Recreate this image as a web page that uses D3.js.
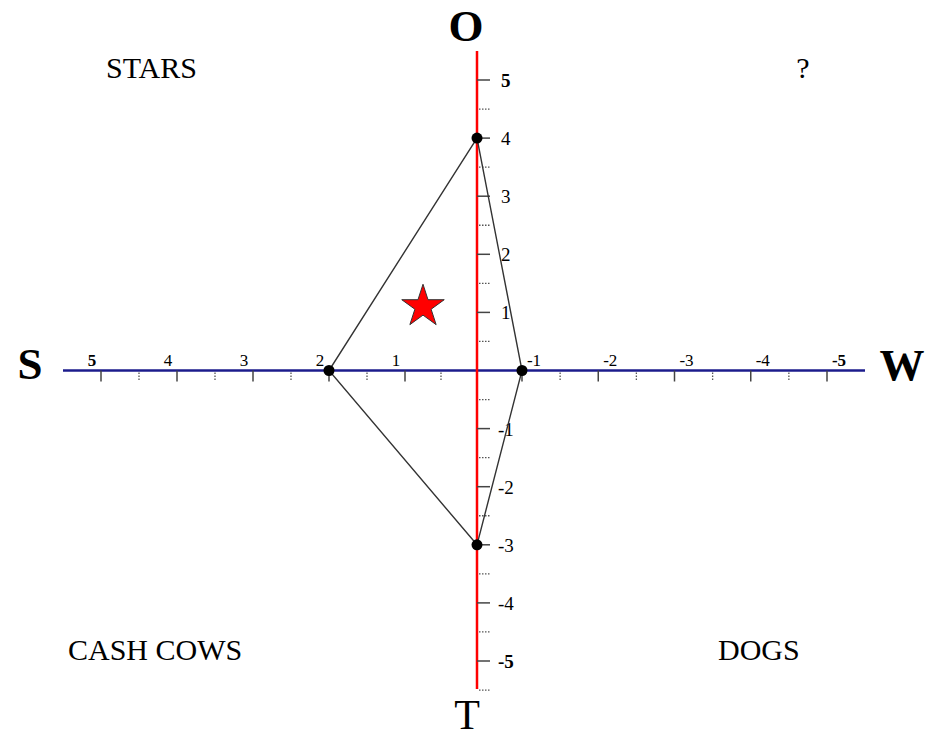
<!DOCTYPE html>
<html>
<head>
<meta charset="utf-8">
<script src="https://cdn.jsdelivr.net/npm/d3@7"></script>
<style>
  body { margin: 0; background: #fff; }
  text { font-family: "Liberation Serif", "Times New Roman", serif; fill: #000; }
</style>
</head>
<body>
<svg id="chart" width="932" height="740"></svg>
<script>

// axis ticks (S..W horizontally, O..T vertically)
var xMajor = [5, 4, 3, 2, 1, -1, -2, -3, -4, -5]
var xMinor = [4.5, 3.5, 2.5, 1.5, 0.5, -1.5, -2.5, -3.5, -4.5]
var yMajor = [5, 4, 3, 2, 1, -1, -2, -3, -4, -5]
var yMinor = [4.5, 3.5, 2.5, 1.5, 0.5, -0.5, -1.5, -2.5, -3.5, -4.5, -5.5]

// polygon corners
var pointX = [0, -1, 0, 2]
var pointY = [4, 0, -3, 0]

// star marker
var starX = [0.75]
var starY = [1.1]

// quadrant + axis names
var quadrants = ["STARS", "?", "CASH COWS", "DOGS"]
var axisNames = ["S", "W", "O", "T"]

var svg = d3.select("#chart")

// the horizontal scale isn't symmetric around the red axis in the original
var x = d3.scaleLinear().domain([5, 1, 0, -1, -5]).range([101, 405, 477, 522, 827])
var y = d3.scaleLinear().domain([5, -5]).range([80, 661])

var x0 = x(0), y0 = y(0)

// horizontal axis
svg.append("line")
    .attr("x1", 63).attr("x2", 865)
    .attr("y1", y0).attr("y2", y0)
    .style("stroke", "#1c1c8c").style("stroke-width", 2.5)

svg.selectAll(".xmajor").data(xMajor).enter().append("line")
    .attr("class", "xmajor")
    .attr("x1", function(d){ return x(d) }).attr("x2", function(d){ return x(d) })
    .attr("y1", y0).attr("y2", y0 + 11)
    .style("stroke", "#444").style("stroke-width", 1.5)

svg.selectAll(".xminor").data(xMinor).enter().append("line")
    .attr("class", "xminor")
    .attr("x1", function(d){ return x(d) }).attr("x2", function(d){ return x(d) })
    .attr("y1", y0 + 2).attr("y2", y0 + 11)
    .style("stroke", "#555").style("stroke-width", 1.3)
    .style("stroke-dasharray", "1.5,1.5")

svg.selectAll(".xlabel").data(xMajor).enter().append("text")
    .attr("class", "xlabel")
    .attr("x", function(d){ return x(d) + (d > 0 ? -9 : 12) })
    .attr("y", y0 - 5)
    .attr("text-anchor", "middle")
    .style("font-size", "17px")
    .style("font-weight", function(d){ return Math.abs(d) == 5 ? "bold" : "normal" })
    .text(function(d){ return d })

// vertical axis
svg.append("line")
    .attr("x1", x0).attr("x2", x0)
    .attr("y1", 51).attr("y2", 689)
    .style("stroke", "#ff0000").style("stroke-width", 2.5)

svg.selectAll(".ymajor").data(yMajor).enter().append("line")
    .attr("class", "ymajor")
    .attr("x1", x0).attr("x2", x0 + 13)
    .attr("y1", function(d){ return y(d) }).attr("y2", function(d){ return y(d) })
    .style("stroke", "#444").style("stroke-width", 1.5)

svg.selectAll(".yminor").data(yMinor).enter().append("line")
    .attr("class", "yminor")
    .attr("x1", x0 + 2).attr("x2", x0 + 13)
    .attr("y1", function(d){ return y(d) }).attr("y2", function(d){ return y(d) })
    .style("stroke", "#555").style("stroke-width", 1.3)
    .style("stroke-dasharray", "1.5,1.5")

svg.selectAll(".ylabel").data(yMajor).enter().append("text")
    .attr("class", "ylabel")
    .attr("x", function(d){ return x0 + (d > 0 ? 24 : 21) })
    .attr("y", function(d){ return y(d) + 7 })
    .style("font-size", "19px")
    .style("font-weight", function(d){ return Math.abs(d) == 5 ? "bold" : "normal" })
    .text(function(d){ return d })

// polygon
var corners = pointX.map(function(d, i){ return [x(d), y(pointY[i])] })

svg.append("path")
    .datum(corners)
    .attr("d", function(d){ return d3.line()(d) + "Z" })
    .style("fill", "none")
    .style("stroke", "#333").style("stroke-width", 1.4)

svg.selectAll(".pt").data(corners).enter().append("circle")
    .attr("class", "pt")
    .attr("cx", function(d){ return d[0] })
    .attr("cy", function(d){ return d[1] })
    .attr("r", 5.5)
    .style("fill", "#000")

// star
svg.selectAll(".star").data(starX).enter().append("path")
    .attr("class", "star")
    .attr("transform", function(d, i){ return "translate(" + x(d) + "," + y(starY[i]) + ")" })
    .attr("d", d3.symbol().type(d3.symbolStar).size(560))
    .style("fill", "#ff0000")
    .style("stroke", "#333").style("stroke-width", 1)

// quadrant labels
var quadPos = [[106, 78, "start"], [803, 78, "middle"], [68, 660, "start"], [718, 660, "start"]]
svg.selectAll(".quad").data(quadrants).enter().append("text")
    .attr("class", "quad")
    .attr("x", function(d, i){ return quadPos[i][0] })
    .attr("y", function(d, i){ return quadPos[i][1] })
    .attr("text-anchor", function(d, i){ return quadPos[i][2] })
    .style("font-size", "30px")
    .text(function(d){ return d })

// axis names
var namePos = [[30, 379, "bold"], [902, 380, "bold"], [466, 41, "bold"], [467, 729, "normal"]]
svg.selectAll(".axname").data(axisNames).enter().append("text")
    .attr("class", "axname")
    .attr("x", function(d, i){ return namePos[i][0] })
    .attr("y", function(d, i){ return namePos[i][1] })
    .attr("text-anchor", "middle")
    .style("font-size", function(d, i){ return i == 3 ? "42px" : "45px" })
    .style("font-weight", function(d, i){ return namePos[i][2] })
    .text(function(d){ return d })

</script>
</body>
</html>
